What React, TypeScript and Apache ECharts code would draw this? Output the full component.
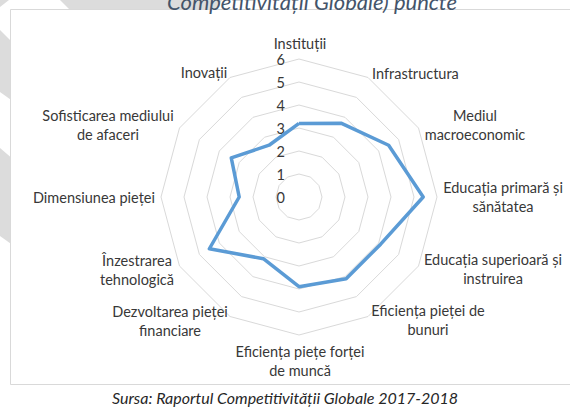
import React, { useEffect, useRef } from "react";
import * as echarts from "echarts";

// Categories in clockwise order starting at the top
const categories: string[] = [
  "Instituții",
  "Infrastructura",
  "Mediul\nmacroeconomic",
  "Educația primară și\nsănătatea",
  "Educația superioară și\ninstruirea",
  "Eficiența pieței de\nbunuri",
  "Eficiența piețe forței\nde muncă",
  "Dezvoltarea pieței\nfinanciare",
  "Înzestrarea\ntehnologică",
  "Dimensiunea pieței",
  "Sofisticarea mediului\nde afaceri",
  "Inovații",
];

const scores: number[] = [3.2, 3.7, 4.5, 5.4, 4.1, 4.1, 3.9, 3.1, 4.5, 2.6, 3.4, 2.6];

const tickLabels: string[] = ["0", "1", "2", "3", "4", "5", "6"];

const titleText = "Competitivității Globale) puncte";
const sourceText = "Sursa: Raportul Competitivității Globale 2017-2018";

// Label layout (text positions only)
const labelPos: { x: number; y: number; align: string }[] = [
  { x: 300, y: 43, align: "center" },
  { x: 372, y: 73, align: "left" },
  { x: 475, y: 125, align: "center" },
  { x: 503, y: 197, align: "center" },
  { x: 493, y: 268.5, align: "center" },
  { x: 428, y: 320, align: "center" },
  { x: 300, y: 361, align: "center" },
  { x: 170, y: 321, align: "center" },
  { x: 137, y: 269.5, align: "center" },
  { x: 155, y: 197, align: "right" },
  { x: 108, y: 125, align: "center" },
  { x: 204, y: 72, align: "center" },
];

const CENTER: [number, number] = [299, 197];
const RADIUS = 138;
const FONT = "Lato, 'Open Sans', sans-serif";

export default function App() {
  const ref = useRef<HTMLDivElement>(null);
  useEffect(() => {
    if (!ref.current) return;
    const chart = echarts.init(ref.current, null, { renderer: "svg" });
    const maxV = tickLabels.length - 1;
    // ECharts radar runs counter-clockwise; reverse after the first for clockwise order
    const order = [0, ...categories.map((_, i) => i).slice(1).reverse()];
    const indicator = order.map((i) => ({ name: categories[i], min: 0, max: maxV }));
    const values = order.map((i) => scores[i]);

    const wm = "#dcdcdc";
    const graphic: any[] = [
      { type: "polygon", z: -10, shape: { points: [[0, 0], [9, 0], [0, 7]] }, style: { fill: wm } },
      { type: "polygon", z: -10, shape: { points: [[0, 30], [14, 44], [14, 102], [0, 92]] }, style: { fill: wm } },
      { type: "polygon", z: -10, shape: { points: [[0, 148], [14, 160], [14, 246], [0, 236]] }, style: { fill: wm } },
      { type: "polygon", z: -10, shape: { points: [[60, 0], [222, 0], [214, 12], [72, 12]] }, style: { fill: wm } },
      {
        type: "rect",
        z: -5,
        shape: { x: 10.5, y: 9.5, width: 600, height: 375 },
        style: { fill: "#ffffff", stroke: "#d9d9d9", lineWidth: 1 },
      },
      {
        type: "text",
        z: 10,
        x: 312,
        y: 12,
        style: {
          text: titleText,
          fill: "#44546A",
          font: `italic 22px ${FONT}`,
          align: "center",
          verticalAlign: "bottom",
        },
      },
      {
        type: "text",
        z: 10,
        x: 285,
        y: 397,
        style: {
          text: sourceText,
          fill: "#262626",
          font: `italic 16px ${FONT}`,
          align: "center",
          verticalAlign: "middle",
        },
      },
    ];
    categories.forEach((c, i) => {
      const p = labelPos[i];
      graphic.push({
        type: "text",
        z: 10,
        x: p.x,
        y: p.y,
        style: {
          text: c,
          fill: "#383838",
          font: `14.5px ${FONT}`,
          align: p.align,
          verticalAlign: "middle",
          lineHeight: 19,
        },
      });
    });

    chart.setOption({
      animation: false,
      backgroundColor: "#ffffff",
      graphic,
      radar: {
        center: CENTER,
        radius: RADIUS,
        startAngle: 90,
        splitNumber: maxV,
        shape: "polygon",
        indicator,
        axisName: { show: false },
        axisLine: { show: false },
        axisTick: { show: false },
        splitArea: { show: false },
        splitLine: { lineStyle: { color: "#d9d9d9", width: 1 } },
      },
      polar: { center: CENTER, radius: RADIUS },
      angleAxis: { type: "value", startAngle: 90, show: false, min: 0, max: 360 },
      radiusAxis: {
        type: "value",
        min: 0,
        max: maxV,
        interval: 1,
        axisLine: { show: false },
        axisTick: { show: false },
        splitLine: { show: false },
        axisLabel: {
          formatter: (v: number) => tickLabels[v] ?? "",
          fontSize: 14.5,
          fontFamily: FONT,
          color: "#383838",
          margin: 14,
        },
      },
      series: [
        {
          type: "radar",
          symbol: "none",
          lineStyle: { color: "#5B9BD5", width: 3.5, join: "round" },
          data: [{ value: values, name: "Scor" }],
        },
      ],
    });
    return () => chart.dispose();
  }, []);
  return (
    <div
      ref={ref}
      style={{ position: "absolute", left: 0, top: 0, width: 570, height: 408 }}
    />
  );
}
